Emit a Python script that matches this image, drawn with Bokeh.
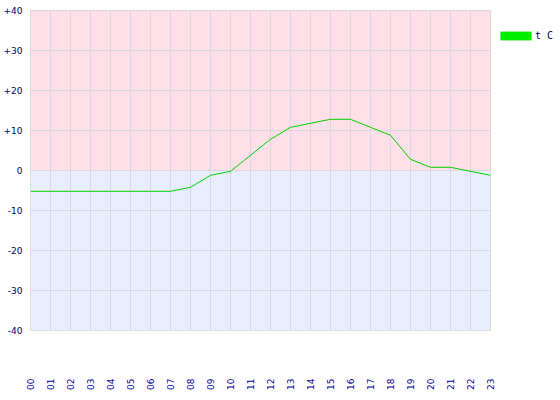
from bokeh.plotting import figure
from bokeh.models import Range1d, FixedTicker, BoxAnnotation, Legend, LegendItem, ColumnDataSource
from bokeh.embed import file_html
from bokeh.resources import INLINE
from math import pi

hours = [0, 1, 2, 3, 4, 5, 6, 7, 8, 9, 10, 11, 12, 13, 14, 15, 16, 17, 18, 19, 20, 21, 22, 23]
hour_labels = ["00", "01", "02", "03", "04", "05", "06", "07", "08", "09", "10", "11",
               "12", "13", "14", "15", "16", "17", "18", "19", "20", "21", "22", "23"]
temps = [-5.2, -5.2, -5.2, -5.2, -5.2, -5.2, -5.2, -5.2, -4.2, -1.2, -0.2, 3.8,
         7.8, 10.8, 11.8, 12.8, 12.8, 10.8, 8.8, 2.8, 0.8, 0.8, -0.2, -1.2]
y_ticks = [-40, -30, -20, -10, 0, 10, 20, 30, 40]
y_tick_labels = ["-40", "-30", "-20", "-10", "0", "+10", "+20", "+30", "+40"]
series_name = "t C"

FONT = "DejaVu Sans"
GRID = "#d9d9d9"

p = figure(frame_width=460, frame_height=320,
           x_range=Range1d(0, 23), y_range=Range1d(-40, 40),
           output_backend="svg", toolbar_location=None,
           min_border_left=30, min_border_top=10, min_border_right=0, min_border_bottom=0)

p.background_fill_color = "#ffdfe8"
p.border_fill_color = "white"
p.outline_line_color = GRID

p.add_layout(BoxAnnotation(top=0, fill_color="#e8eeff", fill_alpha=1.0,
                           line_alpha=0, level="image"))

src = ColumnDataSource(dict(x=hours, y=temps))
p.line("x", "y", source=src, line_color="#00d000", line_width=1)

# zero-area boxes from the data: invisible in the frame, used as the legend swatch
swatch = p.quad(left="x", right="x", top="y", bottom="y", source=src,
                fill_color="#00ee00", line_color=None)

# axes
p.xaxis.ticker = FixedTicker(ticks=hours)
p.xaxis.major_label_overrides = {h: l for h, l in zip(hours, hour_labels)}
p.xaxis.major_label_orientation = pi / 2
p.xaxis.major_label_standoff = 48
p.xaxis.major_label_text_color = "#000099"
p.xaxis.major_label_text_font = FONT
p.xaxis.major_label_text_font_size = "9px"

p.yaxis.ticker = FixedTicker(ticks=y_ticks)
p.yaxis.major_label_overrides = {t: l for t, l in zip(y_ticks, y_tick_labels)}
p.yaxis.major_label_standoff = 8
p.yaxis.major_label_text_color = "#000066"
p.yaxis.major_label_text_font = FONT
p.yaxis.major_label_text_font_size = "9px"

for ax in (p.xaxis, p.yaxis):
    ax.axis_line_color = None
    ax.major_tick_line_color = None
    ax.minor_tick_line_color = None
    ax.major_tick_out = 0
    ax.major_tick_in = 0

p.xgrid.grid_line_color = GRID
p.ygrid.grid_line_color = GRID

legend = Legend(items=[LegendItem(label=series_name, renderers=[swatch])],
                location=(6, 289), margin=0, padding=0,
                glyph_width=39, glyph_height=11, label_standoff=0,
                label_height=10,
                label_text_font="DejaVu Sans Mono", label_text_font_size="10px",
                label_text_color="#000066",
                border_line_color=None, background_fill_alpha=0)
p.add_layout(legend, "right")

open("out.html", "w").write(file_html(p, INLINE))
